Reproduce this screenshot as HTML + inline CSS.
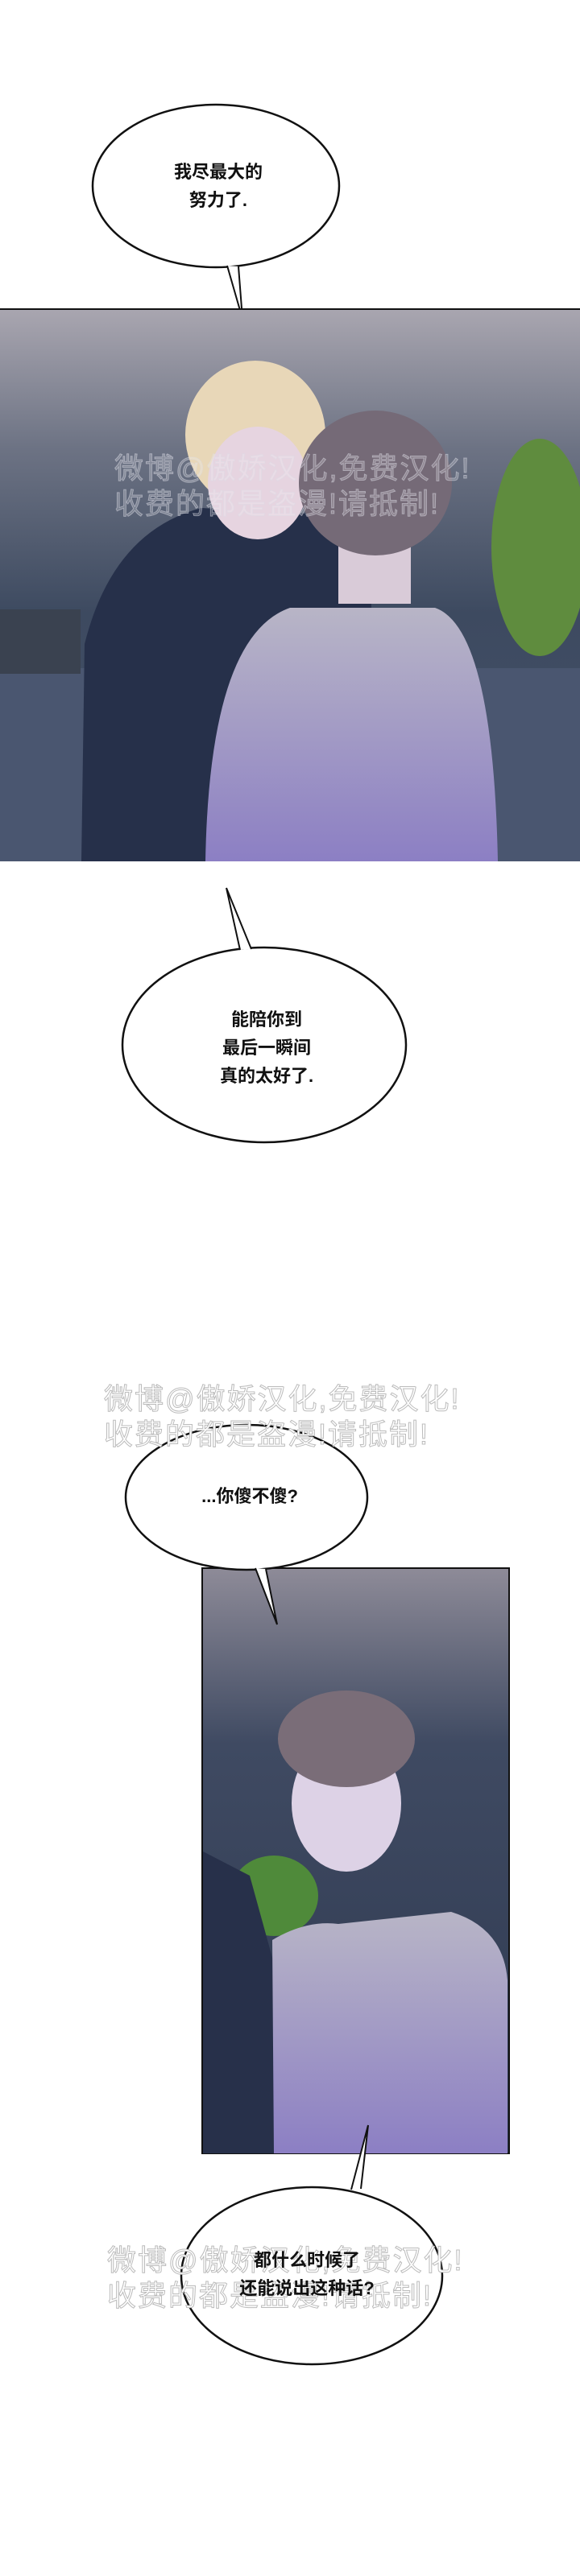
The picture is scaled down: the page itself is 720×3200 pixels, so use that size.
<!DOCTYPE html>
<html><head><meta charset="utf-8"><style>
body{margin:0;width:720px;height:3200px;background:#fff;position:relative;overflow:hidden;font-family:"Liberation Sans","Noto Sans CJK SC",sans-serif}
.a{position:absolute}
.t{position:absolute;text-align:center;font-size:22px;line-height:35px;color:#111;font-weight:bold;transform:translateX(-50%);white-space:nowrap}
.wm{position:absolute;font-size:36px;line-height:44px;color:#fff;-webkit-text-stroke:1px #bbb;letter-spacing:2px;white-space:nowrap}
</style></head><body>
<svg class="a" style="left:0;top:0" width="720" height="3200">
<defs>
<linearGradient id="sky" x1="0" y1="0" x2="0" y2="1"><stop offset="0" stop-color="#a9a6b0"/><stop offset="0.25" stop-color="#6d7384"/><stop offset="0.55" stop-color="#3d4a60"/><stop offset="1" stop-color="#46516a"/></linearGradient>
<linearGradient id="shirt" x1="0" y1="0" x2="0" y2="1"><stop offset="0" stop-color="#b8b5c6"/><stop offset="1" stop-color="#8c7fc4"/></linearGradient>
<linearGradient id="sky2" x1="0" y1="0" x2="0" y2="1"><stop offset="0" stop-color="#8e8b98"/><stop offset="0.3" stop-color="#3f4a62"/><stop offset="1" stop-color="#2e3950"/></linearGradient>
</defs>
<!-- bubble 1 -->
<ellipse cx="268" cy="231" rx="153" ry="101" fill="#fff" stroke="#111" stroke-width="2.5"/>
<path d="M282 330 L301 396 L296 331" fill="#fff" stroke="#111" stroke-width="2"/>
<!-- panel 1 -->
<rect x="0" y="384" width="720" height="686" fill="url(#sky)"/>
<rect x="0" y="830" width="720" height="240" fill="#4a5670"/>
<rect x="0" y="757" width="100" height="80" fill="#3a4250"/>
<ellipse cx="670" cy="680" rx="60" ry="135" fill="#5f8c3e"/>
<path d="M101 1070 L105 800 Q140 660 250 631 L420 640 L460 720 L470 1070Z" fill="#26304a"/>
<ellipse cx="317" cy="540" rx="87" ry="92" fill="#e8d7b8"/>
<ellipse cx="320" cy="600" rx="62" ry="70" fill="#e6d4e0"/>
<rect x="420" y="620" width="90" height="130" fill="#d9cbd8"/>
<path d="M255 1070 Q260 790 360 755 L540 755 Q612 780 618 1070Z" fill="url(#shirt)"/>
<ellipse cx="466" cy="600" rx="95" ry="90" fill="#756a77"/>
<line x1="0" y1="384" x2="720" y2="384" stroke="#111" stroke-width="2"/>
<!-- bubble 2 -->
<ellipse cx="328" cy="1298" rx="176" ry="121" fill="#fff" stroke="#111" stroke-width="2.5"/>
<path d="M298 1180 L281 1103 L312 1179" fill="#fff" stroke="#111" stroke-width="2"/>
<!-- panel 2 -->
<rect x="251" y="1948" width="381" height="727" fill="url(#sky2)" stroke="#111" stroke-width="2"/>
<ellipse cx="340" cy="2355" rx="55" ry="50" fill="#4f8a3a"/>
<path d="M252 2300 L310 2330 L405 2675 L252 2675Z" fill="#27304a"/>
<path d="M340 2675 L338 2410 Q380 2385 420 2390 L560 2375 Q625 2395 630 2460 L630 2675Z" fill="url(#shirt)"/>
<ellipse cx="430" cy="2240" rx="68" ry="85" fill="#ddd2e6"/>
<ellipse cx="430" cy="2160" rx="85" ry="60" fill="#7a6d78"/>
<!-- bubble 3 -->
<ellipse cx="306" cy="1860" rx="150" ry="90" fill="#fff" stroke="#111" stroke-width="2.5"/>
<path d="M317 1948 L344 2018 L330 1949" fill="#fff" stroke="#111" stroke-width="2"/>
<!-- bubble 4 -->
<ellipse cx="387" cy="2827" rx="162" ry="110" fill="#fff" stroke="#111" stroke-width="2.5"/>
<path d="M436 2720 L457 2640 L448 2719" fill="#fff" stroke="#111" stroke-width="2"/>
</svg>
<div class="t" style="left:271px;top:196px">我尽最大的<br>努力了.</div>
<div class="wm" style="left:142px;top:560px;color:rgba(255,255,255,0.2);-webkit-text-stroke:1px rgba(220,220,230,0.5)">微博@傲娇汉化,免费汉化!<br>收费的都是盗漫!请抵制!</div>
<div class="t" style="left:331px;top:1249px">能陪你到<br>最后一瞬间<br>真的太好了.</div>
<div class="wm" style="left:129px;top:1716px">微博@傲娇汉化,免费汉化!<br>收费的都是盗漫!请抵制!</div>
<div class="t" style="left:310px;top:1841px">...你傻不傻?</div>
<div class="wm" style="left:133px;top:2786px">微博@傲娇汉化,免费汉化!<br>收费的都是盗漫!请抵制!</div>
<div class="t" style="left:381px;top:2790px">都什么时候了<br>还能说出这种话?</div>
</body></html>
